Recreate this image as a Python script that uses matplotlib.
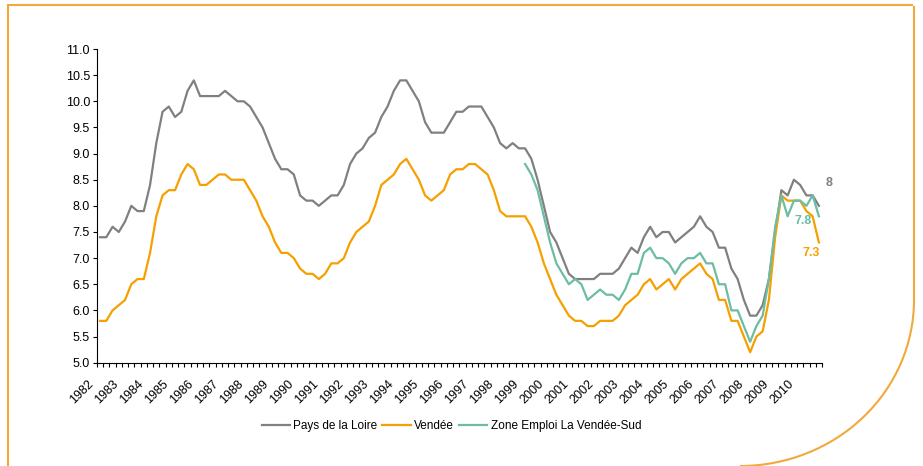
import numpy as np
import matplotlib
matplotlib.use("Agg")
import matplotlib.pyplot as plt
import matplotlib.transforms as mtransforms
from matplotlib.lines import Line2D
from matplotlib.patches import Arc

plt.rcParams["font.family"] = ["Liberation Sans", "DejaVu Sans"]

# quarterly series, 1982 Q1 -> 2010 Q4
years = list(range(1982, 2011))

pays_de_la_loire = [
    7.4, 7.4, 7.6, 7.5, 7.7, 8.0, 7.9, 7.9, 8.4, 9.2, 9.8, 9.9,
    9.7, 9.8, 10.2, 10.4, 10.1, 10.1, 10.1, 10.1, 10.2, 10.1, 10.0, 10.0,
    9.9, 9.7, 9.5, 9.2, 8.9, 8.7, 8.7, 8.6, 8.2, 8.1, 8.1, 8.0,
    8.1, 8.2, 8.2, 8.4, 8.8, 9.0, 9.1, 9.3, 9.4, 9.7, 9.9, 10.2,
    10.4, 10.4, 10.2, 10.0, 9.6, 9.4, 9.4, 9.4, 9.6, 9.8, 9.8, 9.9,
    9.9, 9.9, 9.7, 9.5, 9.2, 9.1, 9.2, 9.1, 9.1, 8.9, 8.5, 8.0,
    7.5, 7.3, 7.0, 6.7, 6.6, 6.6, 6.6, 6.6, 6.7, 6.7, 6.7, 6.8,
    7.0, 7.2, 7.1, 7.4, 7.6, 7.4, 7.5, 7.5, 7.3, 7.4, 7.5, 7.6,
    7.8, 7.6, 7.5, 7.2, 7.2, 6.8, 6.6, 6.2, 5.9, 5.9, 6.1, 6.6,
    7.5, 8.3, 8.2, 8.5, 8.4, 8.2, 8.2, 8.0,
]

vendee = [
    5.8, 5.8, 6.0, 6.1, 6.2, 6.5, 6.6, 6.6, 7.1, 7.8, 8.2, 8.3,
    8.3, 8.6, 8.8, 8.7, 8.4, 8.4, 8.5, 8.6, 8.6, 8.5, 8.5, 8.5,
    8.3, 8.1, 7.8, 7.6, 7.3, 7.1, 7.1, 7.0, 6.8, 6.7, 6.7, 6.6,
    6.7, 6.9, 6.9, 7.0, 7.3, 7.5, 7.6, 7.7, 8.0, 8.4, 8.5, 8.6,
    8.8, 8.9, 8.7, 8.5, 8.2, 8.1, 8.2, 8.3, 8.6, 8.7, 8.7, 8.8,
    8.8, 8.7, 8.6, 8.3, 7.9, 7.8, 7.8, 7.8, 7.8, 7.6, 7.3, 6.9,
    6.6, 6.3, 6.1, 5.9, 5.8, 5.8, 5.7, 5.7, 5.8, 5.8, 5.8, 5.9,
    6.1, 6.2, 6.3, 6.5, 6.6, 6.4, 6.5, 6.6, 6.4, 6.6, 6.7, 6.8,
    6.9, 6.7, 6.6, 6.2, 6.2, 5.8, 5.8, 5.5, 5.2, 5.5, 5.6, 6.2,
    7.4, 8.2, 8.1, 8.1, 8.1, 7.9, 7.8, 7.3,
]

# zone d'emploi starts in 1999 Q1
vendee_sud = [np.nan] * 68 + [
    8.8, 8.6, 8.3, 7.8, 7.3, 6.9, 6.7, 6.5, 6.6, 6.5, 6.2, 6.3,
    6.4, 6.3, 6.3, 6.2, 6.4, 6.7, 6.7, 7.1, 7.2, 7.0, 7.0, 6.9,
    6.7, 6.9, 7.0, 7.0, 7.1, 6.9, 6.9, 6.5, 6.5, 6.0, 6.0, 5.7,
    5.4, 5.7, 5.9, 6.6, 7.6, 8.2, 7.8, 8.1, 8.1, 8.0, 8.2, 7.8,
]

GREY = "#808080"
ORANGE = "#F5A000"
TEAL = "#6DBCA6"

fig = plt.figure(figsize=(9.23, 4.66), dpi=100)
ax = fig.add_axes([0.105, 0.2217, 0.7856, 0.6731])

x = np.arange(len(pays_de_la_loire))
ax.plot(x, pays_de_la_loire, color=GREY, lw=1.6, label="Pays de la Loire")
ax.plot(x, vendee, color=ORANGE, lw=1.6, label="Vendée")
ax.plot(x, vendee_sud, color=TEAL, lw=1.6, label="Zone Emploi La Vendée-Sud")

# end-of-series value labels
last = len(x) - 1
ax.annotate("8", (last, pays_de_la_loire[-1]), xytext=(10, 23), textcoords="offset pixels",
            ha="center", va="center", color=GREY, fontsize=9, fontweight="bold")
ax.annotate(f"{vendee_sud[-1]:.1f}", (last, vendee_sud[-1]), xytext=(-16, -5), textcoords="offset pixels",
            ha="center", va="center", color=TEAL, fontsize=9, fontweight="bold")
ax.annotate(f"{vendee[-1]:.1f}", (last, vendee[-1]), xytext=(-8, -11), textcoords="offset pixels",
            ha="center", va="center", color=ORANGE, fontsize=9, fontweight="bold")

ax.set_yticks(np.arange(5.0, 11.01, 0.5))
ax.set_yticklabels([f"{v:.1f}" for v in np.arange(5.0, 11.01, 0.5)], fontsize=9)
ax.tick_params(axis="y", length=3, width=0.8, pad=2)

# quarter ticks on the axis, year labels every 4 quarters
ax.set_xticks(np.arange(-0.5, len(x), 1.0), minor=True)
ax.tick_params(axis="x", which="minor", length=3, width=0.8)
ax.set_xticks([4 * i for i in range(len(years))])
ax.set_xticklabels([str(y) for y in years], rotation=45, ha="right", va="top",
                   rotation_mode="anchor", fontsize=9)
ax.tick_params(axis="x", which="major", length=0, pad=11)
# nudge the rotated labels left, like Excel does
shift = mtransforms.ScaledTranslation(-12.5 / 100, 0, fig.dpi_scale_trans)
for lab in ax.get_xticklabels():
    lab.set_transform(lab.get_transform() + shift)

ax.set_xlim(-0.5, len(x) - 0.5)
ax.set_ylim(5.0, 11.0)

for s in ["top", "right"]:
    ax.spines[s].set_visible(False)
for s in ["left", "bottom"]:
    ax.spines[s].set_linewidth(0.8)
    ax.spines[s].set_color("#000000")

fig.legend(loc="center", bbox_to_anchor=(0.489, 0.086), ncol=3, frameon=False,
           fontsize=8.5, handlelength=2.4, handletextpad=0.3, columnspacing=0.4)

# orange page frame
W, H = 923, 466
fc = "#F2A93B"
fig.add_artist(Line2D([8 / W, 912 / W], [1 - 5 / H, 1 - 5 / H], transform=fig.transFigure, color=fc, lw=1.5))
fig.add_artist(Line2D([8 / W, 8 / W], [1 - 5 / H, 0], transform=fig.transFigure, color=fc, lw=1.5))
fig.add_artist(Line2D([914 / W, 914 / W], [1 - 7 / H, 1 - 300 / H], transform=fig.transFigure, color=fc, lw=1.5))
fig.add_artist(Arc((740 / W, 1 - 300 / H), 2 * 174 / W, 2 * 166 / H, theta1=270, theta2=360,
                   transform=fig.transFigure, color=fc, lw=1.5))

fig.savefig("out.png", dpi=100)
